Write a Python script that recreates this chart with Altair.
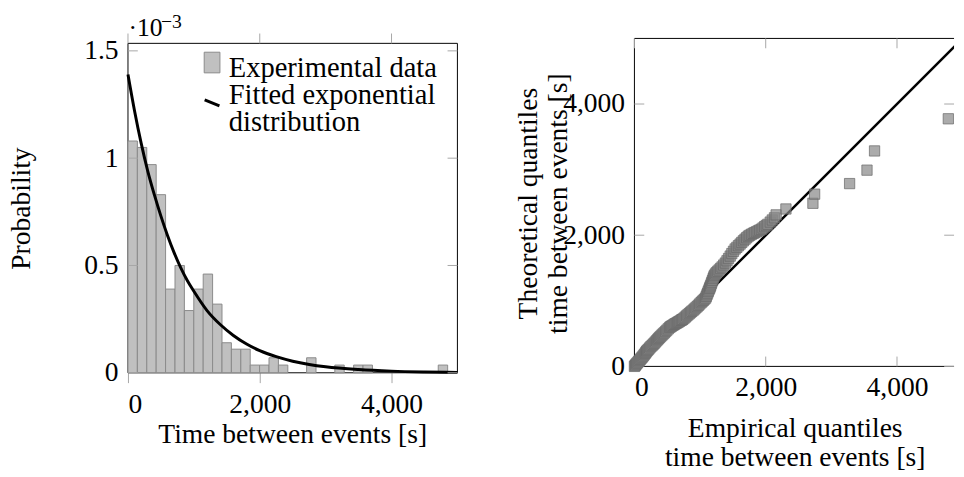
import altair as alt
import pandas as pd

FONT = "Liberation Serif"
FS = 28
TICK_COLOR = "#a6a6a6"

# ---------------- data ----------------
# histogram of times between events (density, in units of 1e-3)
bin_width = 142.7
hist_density = [1.08, 1.05, 0.97, 0.83, 0.39, 0.50, 0.29, 0.39, 0.46, 0.32,
                0.14, 0.11, 0.11, 0.036, 0.036, 0.07, 0.036, 0, 0, 0.07,
                0, 0, 0.036, 0, 0.036, 0.036, 0, 0, 0, 0,
                0, 0, 0, 0.036]

# fitted exponential distribution (1e-3)
fit_x = [0, 100, 200, 300, 400, 500, 600, 700, 800, 900, 1000, 1200,
         1400, 1600, 1800, 2000, 2250, 2500, 2750, 3000, 3500, 4000, 4500, 5000]
fit_y = [1.39, 1.22, 1.07, 0.94, 0.83, 0.73, 0.64, 0.56, 0.49, 0.43, 0.38, 0.29,
         0.225, 0.174, 0.134, 0.103, 0.075, 0.054, 0.039, 0.028, 0.015, 0.0077, 0.004, 0.002]

# Q-Q plot points (empirical quantile, theoretical quantile), in s
qq_empirical = [0, 10, 20, 32, 45, 60, 75, 90, 105, 120,
                135, 150, 165, 176, 187, 200, 215, 232, 250, 268,
                285, 302, 320, 338, 355, 370, 386, 403, 420, 437,
                455, 475, 495, 515, 536, 553, 570, 588, 605, 622,
                640, 658, 675, 692, 710, 724, 737, 756, 775, 795,
                815, 835, 855, 875, 895, 915, 936, 955, 975, 995,
                1015, 1032, 1050, 1068, 1085, 1095, 1105, 1115, 1125, 1135,
                1145, 1152, 1160, 1170, 1180, 1190, 1200, 1210, 1220, 1235,
                1250, 1270, 1290, 1312, 1335, 1360, 1385, 1410, 1434, 1459,
                1484, 1509, 1534, 1560, 1585, 1610, 1635, 1660, 1685, 1710,
                1734, 1759, 1784, 1809, 1834, 1859, 1884, 1909, 1934, 1959,
                1984, 2008, 2033, 2069, 2100, 2133, 2159, 2308, 2719, 2745,
                3278, 3543, 3658, 4782]
qq_theoretical = [0, 12, 25, 40, 55, 72, 90, 107, 125, 142,
                  160, 180, 200, 216, 232, 246, 262, 281, 300, 317,
                  335, 353, 372, 391, 410, 427, 444, 461, 478, 495,
                  512, 532, 553, 573, 594, 606, 617, 628, 640, 650,
                  660, 670, 680, 691, 702, 711, 719, 735, 752, 770,
                  787, 805, 822, 840, 857, 875, 893, 912, 932, 952,
                  972, 990, 1007, 1025, 1042, 1067, 1092, 1117, 1142, 1166,
                  1190, 1210, 1230, 1258, 1285, 1312, 1340, 1365, 1390, 1410,
                  1430, 1450, 1470, 1493, 1516, 1545, 1575, 1610, 1645, 1682,
                  1720, 1755, 1790, 1815, 1840, 1865, 1890, 1915, 1940, 1962,
                  1985, 2000, 2015, 2028, 2040, 2052, 2065, 2078, 2091, 2110,
                  2130, 2148, 2166, 2200, 2232, 2265, 2310, 2400, 2487, 2626,
                  2787, 2992, 3285, 3775]

diag_x = [0, 5000]
diag_y = [0, 5000]

left_y_ticks = [0, 0.5, 1, 1.5]
x_ticks = [0, 2000, 4000]
right_ticks = [0, 2000, 4000]
legend_labels = ["Experimental data", "Fitted exponential", "distribution"]

# ---------------- tables ----------------
hist_df = pd.DataFrame({
    "start": [i * bin_width for i in range(len(hist_density))],
    "end": [(i + 1) * bin_width for i in range(len(hist_density))],
    "density": hist_density,
    "base": [0.0] * len(hist_density),
})
hist_df = hist_df[hist_df["density"] > 0]
fit_df = pd.DataFrame({"x": fit_x, "y": fit_y})
qq_df = pd.DataFrame({"emp": qq_empirical, "theo": qq_theoretical})
diag_df = pd.DataFrame({"x": diag_x, "y": diag_y})
one = alt.Data(values=[{"k": 0}])


def txt(t, x, y, size=FS, align="left", baseline="alphabetic", angle=None):
    kw = dict(text=t, font=FONT, fontSize=size, align=align, baseline=baseline, color="black")
    if angle is not None:
        kw["angle"] = angle
    return alt.Chart(one).mark_text(**kw).encode(x=alt.value(x), y=alt.value(y))


def frame_line(x, x2, y, y2, w=1):
    return alt.Chart(one).mark_rule(color="black", strokeWidth=w).encode(
        x=alt.value(x), x2=alt.value(x2), y=alt.value(y), y2=alt.value(y2))


# ---------------- left panel ----------------
# the plot area is 5 px taller than the frame so that the frame sits 5 px lower
# than the right-hand frame, as in the reference
LW, LH, OFF = 335, 340, 5
lx_scale = alt.Scale(domain=[0, 5000], nice=False, zero=False)
ly_scale = alt.Scale(domain=[0, 1.535 * LH / (LH - OFF)], nice=False, zero=False)
lx_axis = alt.Axis(values=x_ticks, format=",.0f", tickSize=10, tickColor=TICK_COLOR,
                   labelPadding=8, domain=False, grid=False, title=None)
ly_axis = alt.Axis(values=left_y_ticks, format="~g", ticks=False, labelPadding=10,
                   domain=False, grid=False, title=None)


def LX(f):
    return alt.X(f, type="quantitative", scale=lx_scale, axis=lx_axis)


def LY(f):
    return alt.Y(f, type="quantitative", scale=ly_scale, axis=ly_axis)


yt_df = pd.DataFrame({"v": left_y_ticks})
xt_df = pd.DataFrame({"v": x_ticks})

left_layers = [
    frame_line(0, LW, OFF, OFF), frame_line(0, LW, LH, LH),
    frame_line(0, 0, OFF, LH), frame_line(LW, LW, OFF, LH),
    alt.Chart(hist_df).mark_rect(fill="#c0c0c0", stroke="#8a8a8a", strokeWidth=1).encode(
        x=LX("start"), x2="end", y=LY("density"), y2="base"),
    alt.Chart(fit_df).mark_line(color="black", strokeWidth=3, interpolate="monotone").encode(
        x=LX("x"), y=LY("y")),
    alt.Chart(yt_df).mark_rule(color=TICK_COLOR).encode(y=LY("v"), x=alt.value(0), x2=alt.value(10)),
    alt.Chart(yt_df).mark_rule(color=TICK_COLOR).encode(y=LY("v"), x=alt.value(LW - 10), x2=alt.value(LW)),
    alt.Chart(xt_df).mark_rule(color=TICK_COLOR).encode(x=LX("v"), y=alt.value(OFF - 10), y2=alt.value(OFF)),
    # 10^-3 multiplier
    txt("·10", 0.5, OFF - 7, size=26),
    txt("−3", 33.5, OFF - 16, size=20),
    # legend
    alt.Chart(one).mark_rect(fill="#c0c0c0", stroke="#8a8a8a", strokeWidth=1).encode(
        x=alt.value(77.5), x2=alt.value(93.5), y=alt.value(OFF + 9), y2=alt.value(OFF + 30)),
    frame_line(78, 93, OFF + 57.5, OFF + 63.5, w=3),
    txt(legend_labels[0], 102.5, OFF + 34, size=29),
    txt(legend_labels[1], 102.5, OFF + 61.5, size=29),
    txt(legend_labels[2], 102.5, OFF + 89.5, size=29),
    # titles
    txt("Probability", -107.5, OFF + 168, align="center", baseline="middle", angle=270),
    txt("Time between events [s]", 167.5, OFF + 398, align="center", baseline="middle"),
]
left = alt.layer(*left_layers).properties(width=LW, height=LH)

# ---------------- right panel ----------------
PX = 133.5 / 2000.0
RW, RH = 325, 333.5
rx_scale = alt.Scale(domain=[0, RW / PX], nice=False, zero=False)
ry_scale = alt.Scale(domain=[0, 5000], nice=False, zero=False)
rx_axis = alt.Axis(values=right_ticks, format=",.0f", ticks=False, labelPadding=8,
                   domain=False, grid=False, title=None)
ry_axis = alt.Axis(values=right_ticks, format=",.0f", ticks=False, labelPadding=10,
                   domain=False, grid=False, title=None)


def RX(f):
    return alt.X(f, type="quantitative", scale=rx_scale, axis=rx_axis)


def RY(f):
    return alt.Y(f, type="quantitative", scale=ry_scale, axis=ry_axis)


rt_df = pd.DataFrame({"v": right_ticks})

right_layers = [
    frame_line(0, RW, 0, 0), frame_line(0, RW, RH, RH), frame_line(0, 0, 0, RH),
    alt.Chart(rt_df).mark_rule(color=TICK_COLOR).encode(x=RX("v"), y=alt.value(0), y2=alt.value(10)),
    alt.Chart(rt_df).mark_rule(color=TICK_COLOR).encode(x=RX("v"), y=alt.value(RH - 10), y2=alt.value(RH)),
    alt.Chart(rt_df).mark_rule(color=TICK_COLOR).encode(y=RY("v"), x=alt.value(0), x2=alt.value(10)),
    alt.Chart(rt_df).mark_rule(color=TICK_COLOR).encode(y=RY("v"), x=alt.value(RW - 10), x2=alt.value(RW)),
    alt.Chart(diag_df).mark_line(color="black", strokeWidth=2.5, clip=True).encode(x=RX("x"), y=RY("y")),
    alt.Chart(qq_df).mark_square(size=110, fill="#888888", fillOpacity=0.7, stroke="#666666",
                                 strokeOpacity=0.7, strokeWidth=1).encode(x=RX("emp"), y=RY("theo")),
    txt("Theoretical quantiles", -107.5, 168, align="center", baseline="middle", angle=270),
    txt("time between events [s]", -76.5, 168, align="center", baseline="middle", angle=270),
    txt("Empirical quantiles", 163.5, 397, align="center", baseline="middle"),
    txt("time between events [s]", 163.5, 427, align="center", baseline="middle"),
]
right = alt.layer(*right_layers).properties(width=RW, height=RH)

chart = alt.hconcat(left, right, spacing=52).properties(
    padding={"left": 0, "top": 0, "right": 0, "bottom": 0}
).configure_view(stroke=None).configure_axis(
    labelFont=FONT, labelFontSize=FS, labelColor="black"
)

chart.save("out.html", embed_options={"renderer": "svg", "actions": False})
